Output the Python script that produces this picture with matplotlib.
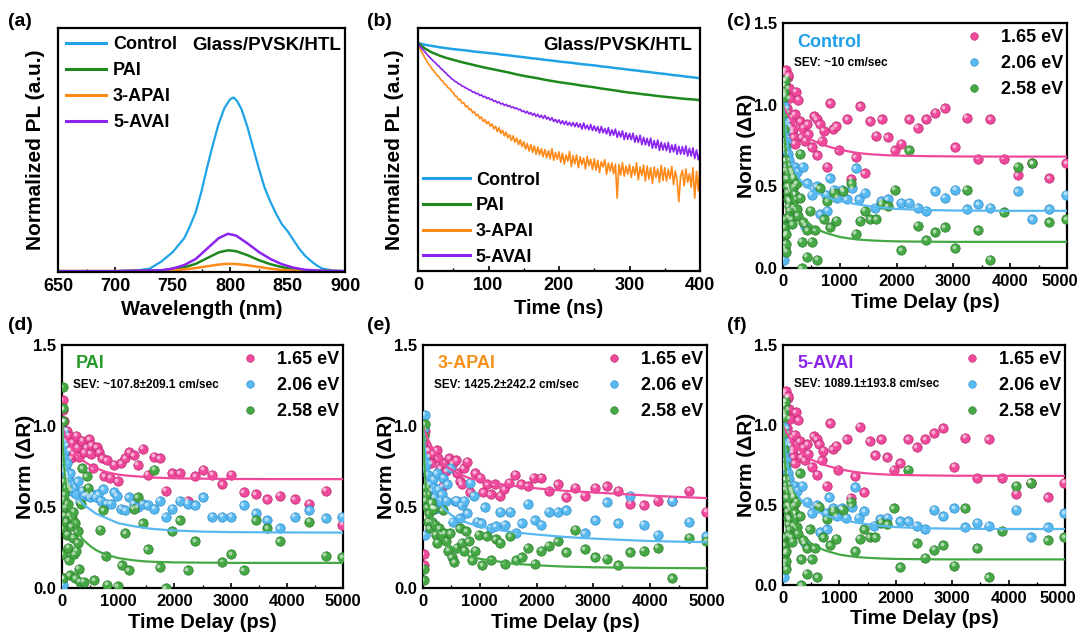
import numpy as np
import matplotlib
matplotlib.use("Agg")
import matplotlib.pyplot as plt
from matplotlib.lines import Line2D
from matplotlib import transforms
from matplotlib.ticker import MultipleLocator

plt.rcParams['font.family'] = ['Liberation Sans', 'DejaVu Sans']
plt.rcParams['font.weight'] = 'bold'
plt.rcParams['axes.labelweight'] = 'bold'

# ---------------- (a) steady-state PL ----------------
PL_WL_CONTROL = [650, 700, 720, 730, 740, 750, 760, 765, 770, 775, 780, 785, 790, 795, 800, 803, 806,
                 810, 815, 820, 825, 830, 835, 840, 845, 850, 855, 860, 865, 870, 875, 880, 890, 900]
PL_CONTROL = [0.0, 0.0, 0.005, 0.015, 0.055, 0.11, 0.19, 0.26, 0.34, 0.46, 0.60, 0.73, 0.85, 0.94, 0.99, 1.0,
              0.98, 0.93, 0.83, 0.71, 0.59, 0.48, 0.40, 0.33, 0.27, 0.23, 0.18, 0.13, 0.09, 0.06, 0.035,
              0.015, 0.003, 0.0]
PL_WL_SMALL = [650, 700, 740, 750, 760, 770, 780, 790, 798, 805, 815, 825, 835, 845, 855, 865, 880, 900]
PL_5AVAI = [0.0, 0.0, 0.005, 0.015, 0.035, 0.07, 0.13, 0.19, 0.215, 0.205, 0.16, 0.11, 0.07, 0.04, 0.02,
            0.008, 0.002, 0.0]
PL_PAI = [0.0, 0.0, 0.004, 0.01, 0.022, 0.042, 0.075, 0.108, 0.12, 0.115, 0.092, 0.063, 0.04, 0.023, 0.012,
          0.005, 0.002, 0.0]
PL_3APAI = [0.0, 0.0, 0.002, 0.004, 0.01, 0.018, 0.028, 0.038, 0.042, 0.041, 0.034, 0.024, 0.014, 0.007,
            0.003, 0.001, 0.0, 0.0]

# ---------------- (b) TRPL ----------------
TR_T10 = list(range(0, 401, 10))
TR_CONTROL = [0.938, 0.931, 0.926, 0.921, 0.917, 0.913, 0.910, 0.907, 0.903, 0.900, 0.897,
              0.894, 0.890, 0.887, 0.883, 0.880, 0.876, 0.873, 0.869, 0.866, 0.862,
              0.859, 0.856, 0.852, 0.849, 0.846, 0.842, 0.839, 0.835, 0.832, 0.828,
              0.825, 0.821, 0.818, 0.814, 0.811, 0.807, 0.804, 0.800, 0.797, 0.793]
TR_PAI = [0.938, 0.915, 0.899, 0.887, 0.877, 0.869, 0.861, 0.854, 0.847, 0.840, 0.834,
          0.828, 0.822, 0.816, 0.809, 0.803, 0.798, 0.793, 0.787, 0.782, 0.777,
          0.773, 0.769, 0.764, 0.760, 0.756, 0.751, 0.747, 0.743, 0.738, 0.734,
          0.731, 0.727, 0.724, 0.720, 0.717, 0.714, 0.711, 0.708, 0.706, 0.703]
TR_T25 = [i * 2.5 for i in range(161)]
TR_3APAI = [0.938, 0.919, 0.902, 0.890, 0.875, 0.865, 0.851, 0.843, 0.831, 0.823,
            0.814, 0.803, 0.799, 0.786, 0.782, 0.769, 0.766, 0.754, 0.751, 0.740,
            0.735, 0.720, 0.719, 0.704, 0.707, 0.690, 0.693, 0.676, 0.680, 0.664,
            0.667, 0.651, 0.656, 0.639, 0.644, 0.627, 0.634, 0.615, 0.623, 0.606,
            0.615, 0.596, 0.605, 0.585, 0.596, 0.574, 0.590, 0.566, 0.579, 0.556,
            0.571, 0.548, 0.561, 0.537, 0.556, 0.530, 0.547, 0.520, 0.540, 0.512,
            0.532, 0.502, 0.525, 0.494, 0.520, 0.488, 0.515, 0.480, 0.510, 0.478,
            0.503, 0.470, 0.500, 0.466, 0.495, 0.462, 0.504, 0.455, 0.488, 0.460,
            0.490, 0.447, 0.485, 0.440, 0.478, 0.452, 0.492, 0.430, 0.475, 0.441,
            0.478, 0.425, 0.470, 0.438, 0.465, 0.420, 0.472, 0.433, 0.460, 0.418,
            0.462, 0.415, 0.455, 0.405, 0.450, 0.428, 0.458, 0.398, 0.445, 0.410,
            0.445, 0.400, 0.440, 0.300, 0.438, 0.395, 0.446, 0.390, 0.432, 0.398,
            0.438, 0.385, 0.430, 0.395, 0.445, 0.375, 0.428, 0.392, 0.436, 0.370,
            0.432, 0.378, 0.425, 0.360, 0.428, 0.385, 0.420, 0.365, 0.435, 0.372,
            0.425, 0.370, 0.418, 0.380, 0.430, 0.355, 0.412, 0.372, 0.285, 0.390,
            0.415, 0.350, 0.420, 0.365, 0.400, 0.345, 0.425, 0.300, 0.410, 0.330,
            0.440]
TR_5AVAI = [0.938, 0.927, 0.917, 0.909, 0.901, 0.892, 0.884, 0.877, 0.869, 0.862,
            0.856, 0.847, 0.842, 0.833, 0.828, 0.819, 0.814, 0.805, 0.800, 0.791,
            0.787, 0.780, 0.777, 0.770, 0.768, 0.761, 0.759, 0.753, 0.751, 0.745,
            0.744, 0.736, 0.737, 0.729, 0.731, 0.722, 0.725, 0.716, 0.719, 0.710,
            0.713, 0.705, 0.707, 0.698, 0.701, 0.692, 0.696, 0.687, 0.690, 0.681,
            0.686, 0.677, 0.681, 0.672, 0.675, 0.668, 0.671, 0.663, 0.666, 0.656,
            0.660, 0.650, 0.657, 0.646, 0.652, 0.641, 0.649, 0.636, 0.645, 0.632,
            0.641, 0.628, 0.640, 0.625, 0.633, 0.620, 0.631, 0.615, 0.624, 0.611,
            0.622, 0.606, 0.618, 0.603, 0.616, 0.600, 0.612, 0.597, 0.611, 0.594,
            0.610, 0.592, 0.606, 0.584, 0.609, 0.585, 0.600, 0.581, 0.603, 0.578,
            0.597, 0.576, 0.594, 0.568, 0.595, 0.569, 0.586, 0.564, 0.590, 0.557,
            0.581, 0.559, 0.584, 0.550, 0.574, 0.551, 0.577, 0.541, 0.569, 0.542,
            0.566, 0.540, 0.567, 0.530, 0.557, 0.529, 0.559, 0.520, 0.550, 0.519,
            0.546, 0.515, 0.547, 0.505, 0.537, 0.506, 0.539, 0.496, 0.530, 0.498,
            0.526, 0.495, 0.529, 0.488, 0.519, 0.490, 0.521, 0.480, 0.513, 0.481,
            0.512, 0.480, 0.515, 0.473, 0.505, 0.473, 0.507, 0.463, 0.498, 0.458,
            0.490]

# ---------------- (c)/(f) Control & 5-AVAI TR ----------------
CTRL_165 = [(20, 1.19), (30, 1.12), (40, 1.15), (48, 1.21), (50, 1.06), (60, 0.88), (70, 0.98), (80, 1.17),
            (90, 1.18), (90, 0.95), (100, 1.10), (110, 0.90), (120, 1.04), (130, 0.87), (150, 0.92),
            (167, 0.83), (170, 0.85), (190, 0.80), (208, 0.94), (208, 0.76), (226, 1.08), (268, 1.03),
            (298, 0.90), (327, 0.80), (357, 0.86), (387, 0.78), (428, 0.88), (446, 0.82), (506, 0.74),
            (547, 0.93), (595, 0.91), (607, 0.69), (643, 0.88), (684, 0.78), (714, 0.84), (774, 0.62),
            (833, 1.01), (880, 0.85), (940, 0.87), (982, 0.72), (1131, 0.91), (1202, 0.545), (1280, 0.68),
            (1357, 0.99), (1440, 0.58), (1535, 0.90), (1636, 0.81), (1737, 0.91), (1845, 0.80),
            (1964, 0.72), (2083, 0.76), (2220, 0.91), (2368, 0.86), (2517, 0.91), (2678, 0.95),
            (2845, 0.98), (3035, 0.74), (3232, 0.92), (3440, 0.67), (3647, 0.91), (3885, 0.67),
            (4135, 0.57), (4390, 0.64), (4690, 0.55), (4982, 0.64)]
CTRL_206 = [(10, 0.99), (15, 0.05), (20, 0.93), (30, 0.88), (30, 0.72), (40, 0.84), (50, 0.78), (60, 0.74),
            (60, 0.62), (80, 0.70), (90, 0.55), (100, 0.66), (120, 0.63), (120, 0.50), (140, 0.60),
            (150, 0.47), (160, 0.58), (180, 0.56), (200, 0.45), (208, 0.62), (250, 0.59), (345, 0.62),
            (387, 0.26), (428, 0.52), (506, 0.45), (595, 0.50), (655, 0.33), (762, 0.45), (774, 0.35),
            (821, 0.55), (893, 0.48), (952, 0.43), (1041, 0.48), (1119, 0.42), (1220, 0.49), (1280, 0.61),
            (1339, 0.42), (1440, 0.46), (1619, 0.37), (1726, 0.41), (1845, 0.42), (2083, 0.40),
            (2220, 0.40), (2368, 0.37), (2517, 0.35), (2678, 0.47), (2845, 0.43), (3035, 0.48),
            (3232, 0.36), (3440, 0.39), (3647, 0.37), (4135, 0.47), (4390, 0.30), (4690, 0.36),
            (4982, 0.45)]
CTRL_258 = [(10, 1.12), (18, 1.08), (20, 1.05), (15, 0.95), (25, 0.85), (30, 1.15), (30, 0.75), (30, 0.12),
            (20, 0.30), (30, 0.25), (40, 0.66), (40, 0.20), (50, 0.60), (50, 0.15), (60, 0.55), (60, 0.66),
            (60, 0.21), (60, 0.10), (70, 0.50), (80, 0.46), (90, 0.42), (90, 0.31), (90, 0.58), (100, 0.38),
            (100, 0.60), (120, 0.41), (120, 0.35), (130, 0.48), (140, 0.30), (150, 0.49), (160, 0.27),
            (180, 0.37), (180, 0.55), (200, 0.50), (208, 0.45), (220, 0.42), (238, 0.52), (240, 0.36),
            (260, 0.32), (298, 0.70), (300, 0.43), (327, 0.16), (327, 0.00), (357, 0.28), (417, 0.07),
            (428, 0.23), (476, 0.35), (506, 0.16), (565, 0.23), (607, 0.05), (643, 0.49), (714, 0.30),
            (774, 0.41), (833, 0.25), (893, 0.46), (940, 0.29), (1060, 0.47), (1202, 0.52), (1280, 0.21),
            (1357, 0.29), (1440, 0.35), (1535, 0.30), (1636, 0.30), (1737, 0.39), (1845, 0.38),
            (1964, 0.48), (2083, 0.11), (2220, 0.72), (2368, 0.26), (2517, 0.17), (2678, 0.22),
            (2845, 0.25), (3035, 0.12), (3232, 0.48), (3440, 0.23), (3647, 0.05), (3885, 0.34),
            (4135, 0.62), (4390, 0.64), (4690, 0.28), (4982, 0.30)]
CTRL_FIT_165 = [(0, 1.0), (25, 0.98), (50, 0.96), (75, 0.945), (100, 0.93), (150, 0.905), (200, 0.88),
                (250, 0.86), (300, 0.84), (350, 0.825), (400, 0.81), (500, 0.785), (600, 0.768),
                (700, 0.755), (850, 0.738), (1000, 0.725), (1150, 0.714), (1300, 0.705), (1450, 0.699),
                (1600, 0.695), (1800, 0.691), (2000, 0.688), (2500, 0.685), (3000, 0.683), (4000, 0.682),
                (5000, 0.682)]
CTRL_FIT_206 = [(0, 1.0), (15, 0.94), (30, 0.88), (45, 0.84), (60, 0.80), (80, 0.76), (100, 0.72),
                (125, 0.68), (150, 0.65), (175, 0.625), (200, 0.60), (250, 0.57), (300, 0.54), (350, 0.52),
                (400, 0.50), (500, 0.48), (600, 0.46), (700, 0.445), (800, 0.43), (900, 0.42), (1000, 0.41),
                (1150, 0.40), (1300, 0.39), (1450, 0.382), (1600, 0.375), (1800, 0.368), (2000, 0.362),
                (2500, 0.355), (3000, 0.352), (4000, 0.35), (5000, 0.35)]
CTRL_FIT_258 = [(0, 1.0), (10, 0.92), (20, 0.85), (35, 0.77), (50, 0.70), (75, 0.62), (100, 0.55),
                (125, 0.50), (150, 0.46), (175, 0.43), (200, 0.40), (250, 0.36), (300, 0.33), (350, 0.31),
                (400, 0.29), (500, 0.26), (600, 0.24), (700, 0.222), (800, 0.21), (900, 0.20), (1000, 0.19),
                (1150, 0.182), (1300, 0.175), (1450, 0.171), (1600, 0.168), (1800, 0.165), (2000, 0.163),
                (2500, 0.161), (3000, 0.16), (5000, 0.16)]

# ---------------- (d) PAI TR ----------------
PAI_165 = [(10, 1.16), (15, 0.06), (18, 1.10), (30, 0.90), (40, 1.03), (50, 0.82), (60, 0.97), (80, 0.91),
           (90, 0.97), (100, 0.88), (120, 0.94), (140, 0.85), (150, 0.85), (160, 0.80), (180, 0.90),
           (210, 0.83), (258, 0.94), (270, 0.87), (300, 0.81), (360, 0.91), (390, 0.84), (437, 0.87),
           (479, 0.92), (510, 0.83), (520, 0.88), (557, 0.74), (617, 0.87), (659, 0.84), (719, 0.80),
           (749, 0.69), (797, 0.79), (856, 0.68), (928, 0.76), (988, 0.66), (1048, 0.77), (1126, 0.80),
           (1198, 0.84), (1276, 0.82), (1348, 0.76), (1438, 0.86), (1528, 0.70), (1636, 0.81),
           (1737, 0.80), (1845, 0.60), (1965, 0.71), (2097, 0.71), (2235, 0.54), (2367, 0.69),
           (2517, 0.73), (2677, 0.70), (2845, 0.64), (3013, 0.70), (3235, 0.59), (3444, 0.58),
           (3654, 0.55), (3875, 0.57), (4139, 0.55), (4401, 0.52), (4689, 0.60), (4988, 0.39)]
PAI_206 = [(10, 0.97), (15, 0.02), (20, 0.89), (30, 0.84), (30, 0.72), (40, 0.80), (50, 0.77), (60, 0.74),
           (70, 0.70), (80, 0.68), (90, 0.77), (90, 0.71), (100, 0.66), (110, 0.68), (120, 0.64),
           (140, 0.62), (150, 0.71), (160, 0.60), (180, 0.64), (222, 0.62), (258, 0.58), (282, 0.66),
           (317, 0.53), (360, 0.60), (400, 0.57), (449, 0.58), (490, 0.56), (539, 0.58), (599, 0.56),
           (640, 0.58), (689, 0.54), (737, 0.61), (797, 0.52), (868, 0.52), (928, 0.59), (976, 0.57),
           (1048, 0.49), (1120, 0.48), (1186, 0.56), (1276, 0.52), (1348, 0.50), (1438, 0.52),
           (1528, 0.51), (1636, 0.49), (1737, 0.54), (1845, 0.44), (1965, 0.49), (2097, 0.54),
           (2235, 0.52), (2367, 0.51), (2517, 0.56), (2677, 0.44), (2845, 0.44), (3013, 0.44),
           (3235, 0.51), (3444, 0.46), (3654, 0.42), (3875, 0.37), (4139, 0.44), (4401, 0.48),
           (4689, 0.43), (4988, 0.44)]
PAI_258 = [(10, 1.24), (15, 1.11), (20, 1.03), (10, 0.37), (15, 0.21), (20, 0.06), (25, 0.66), (30, 0.55),
           (40, 0.58), (50, 0.45), (60, 0.50), (70, 0.62), (75, 0.41), (90, 0.33), (100, 0.52),
           (105, 0.25), (120, 0.17), (130, 0.45), (135, 0.08), (160, 0.38), (180, 0.43), (198, 0.31),
           (200, 0.47), (222, 0.21), (240, 0.06), (240, 0.40), (258, 0.23), (280, 0.28), (282, 0.35),
           (300, 0.12), (317, 0.04), (340, 0.52), (360, 0.74), (389, 0.04), (437, 0.69), (461, 0.62),
           (569, 0.05), (677, 0.36), (737, 0.48), (779, 0.20), (809, 0.02), (988, 0.01), (1060, 0.14),
           (1126, 0.34), (1186, 0.11), (1276, 0.49), (1348, 0.56), (1438, 0.40), (1528, 0.24),
           (1636, 0.73), (1737, 0.13), (1845, 0.0), (1965, 0.35), (2097, 0.42), (2235, 0.11),
           (2367, 0.29), (2845, 0.16), (3013, 0.21), (3235, 0.11), (3444, 0.42), (3654, 0.37),
           (3875, 0.29), (4401, 0.41), (4689, 0.20), (4988, 0.19)]
PAI_FIT_165 = [(0, 1.0), (25, 0.975), (50, 0.95), (75, 0.93), (100, 0.91), (150, 0.88), (200, 0.85),
               (250, 0.83), (300, 0.81), (350, 0.795), (400, 0.78), (500, 0.758), (600, 0.74), (700, 0.727),
               (800, 0.715), (900, 0.707), (1000, 0.70), (1150, 0.694), (1300, 0.69), (1600, 0.682),
               (2000, 0.677), (2500, 0.675), (3000, 0.673), (4000, 0.672), (5000, 0.672)]
PAI_FIT_206 = [(0, 1.0), (15, 0.94), (30, 0.88), (45, 0.84), (60, 0.80), (80, 0.765), (100, 0.73),
               (125, 0.695), (150, 0.66), (175, 0.635), (200, 0.61), (250, 0.575), (300, 0.55), (350, 0.53),
               (400, 0.51), (500, 0.485), (600, 0.46), (700, 0.445), (800, 0.43), (900, 0.415), (1000, 0.40),
               (1150, 0.39), (1300, 0.38), (1450, 0.372), (1600, 0.365), (1800, 0.36), (2000, 0.355),
               (2500, 0.348), (3000, 0.345), (4000, 0.343), (5000, 0.342)]
PAI_FIT_258 = [(0, 1.0), (10, 0.92), (20, 0.85), (35, 0.77), (50, 0.70), (75, 0.62), (100, 0.56),
               (125, 0.51), (150, 0.47), (175, 0.44), (200, 0.41), (250, 0.37), (300, 0.34), (350, 0.31),
               (400, 0.29), (500, 0.26), (600, 0.235), (700, 0.218), (800, 0.205), (900, 0.195), (1000, 0.185),
               (1150, 0.177), (1300, 0.17), (1450, 0.165), (1600, 0.162), (1800, 0.16), (2000, 0.158),
               (3000, 0.155), (5000, 0.155)]

# ---------------- (e) 3-APAI TR ----------------
APAI_165 = [(10, 0.21), (15, 0.14), (10, 0.95), (20, 0.91), (30, 0.86), (40, 0.97), (60, 0.85), (89, 0.85),
            (110, 0.81), (149, 0.77), (190, 0.83), (238, 0.85), (268, 0.80), (298, 0.74), (345, 0.63),
            (370, 0.77), (405, 0.72), (464, 0.80), (524, 0.77), (583, 0.79), (607, 0.71), (655, 0.66),
            (684, 0.64), (714, 0.74), (774, 0.78), (833, 0.59), (922, 0.71), (1012, 0.68), (1059, 0.59),
            (1131, 0.64), (1190, 0.58), (1262, 0.64), (1357, 0.57), (1428, 0.61), (1517, 0.65),
            (1619, 0.70), (1726, 0.64), (1845, 0.63), (1952, 0.68), (2083, 0.68), (2214, 0.60),
            (2368, 0.64), (2517, 0.56), (2678, 0.62), (2845, 0.57), (3035, 0.62), (3232, 0.63),
            (3440, 0.60), (3647, 0.52), (3885, 0.51), (4135, 0.54), (4390, 0.54), (4690, 0.60),
            (4982, 0.47)]
APAI_206 = [(30, 1.07), (10, 0.99), (30, 0.33), (20, 0.80), (40, 0.74), (60, 0.77), (70, 0.62), (89, 0.70),
            (100, 0.58), (119, 0.64), (130, 0.52), (149, 0.60), (160, 0.50), (178, 0.67), (190, 0.62),
            (208, 0.56), (220, 0.49), (238, 0.71), (268, 0.61), (298, 0.54), (327, 0.58), (357, 0.68),
            (405, 0.54), (430, 0.64), (476, 0.74), (524, 0.41), (565, 0.54), (607, 0.54), (643, 0.43),
            (684, 0.51), (726, 0.54), (774, 0.46), (833, 0.65), (893, 0.57), (952, 0.41), (1024, 0.40),
            (1083, 0.50), (1190, 0.37), (1280, 0.38), (1357, 0.47), (1440, 0.39), (1535, 0.47),
            (1636, 0.34), (1737, 0.40), (1845, 0.52), (1964, 0.42), (2083, 0.39), (2214, 0.47),
            (2368, 0.47), (2517, 0.48), (2845, 0.34), (3035, 0.42), (3232, 0.53), (3440, 0.40),
            (3647, 0.57), (3885, 0.39), (4135, 0.33), (4390, 0.54), (4690, 0.41), (4982, 0.32)]
APAI_258 = [(30, 1.01), (15, 0.94), (10, 0.05), (15, 0.12), (30, 0.62), (48, 0.54), (60, 0.58), (77, 0.50),
            (89, 0.41), (107, 0.46), (119, 0.37), (149, 0.53), (167, 0.41), (178, 0.49), (208, 0.39),
            (226, 0.33), (250, 0.28), (286, 0.37), (310, 0.33), (345, 0.48), (369, 0.34), (405, 0.29),
            (446, 0.23), (476, 0.34), (506, 0.19), (547, 0.16), (595, 0.25), (643, 0.37), (684, 0.28),
            (726, 0.23), (762, 0.35), (803, 0.29), (863, 0.17), (922, 0.23), (982, 0.33), (1041, 0.14),
            (1119, 0.32), (1202, 0.17), (1280, 0.30), (1357, 0.28), (1440, 0.15), (1535, 0.32),
            (1636, 0.17), (1737, 0.19), (1845, 0.25), (1964, 0.15), (2083, 0.23), (2214, 0.26),
            (2368, 0.29), (2517, 0.22), (2678, 0.36), (2845, 0.24), (3035, 0.19), (3232, 0.18),
            (3440, 0.14), (3647, 0.22), (3885, 0.23), (4135, 0.25), (4390, 0.06), (4690, 0.31),
            (4982, 0.29)]
APAI_FIT_165 = [(0, 1.0), (25, 0.975), (50, 0.95), (75, 0.93), (100, 0.91), (150, 0.875), (200, 0.84),
                (250, 0.815), (300, 0.79), (350, 0.77), (400, 0.755), (500, 0.73), (600, 0.71), (700, 0.695),
                (800, 0.68), (900, 0.672), (1000, 0.665), (1150, 0.655), (1300, 0.645), (1450, 0.637),
                (1600, 0.63), (1800, 0.622), (2000, 0.615), (2500, 0.60), (3000, 0.59), (3500, 0.58),
                (4000, 0.57), (4500, 0.562), (5000, 0.555)]
APAI_FIT_206 = [(0, 1.0), (15, 0.94), (30, 0.88), (45, 0.83), (60, 0.79), (80, 0.75), (100, 0.71),
                (125, 0.67), (150, 0.64), (175, 0.61), (200, 0.59), (250, 0.55), (300, 0.52), (350, 0.50),
                (400, 0.48), (500, 0.45), (600, 0.43), (700, 0.413), (800, 0.40), (900, 0.39), (1000, 0.38),
                (1150, 0.37), (1300, 0.36), (1450, 0.352), (1600, 0.345), (1800, 0.337), (2000, 0.33),
                (2500, 0.315), (3000, 0.305), (3500, 0.297), (4000, 0.29), (4500, 0.286), (5000, 0.283)]
APAI_FIT_258 = [(0, 1.0), (10, 0.89), (20, 0.80), (35, 0.70), (50, 0.62), (75, 0.55), (100, 0.50),
                (125, 0.46), (150, 0.43), (175, 0.40), (200, 0.38), (250, 0.345), (300, 0.32), (350, 0.30),
                (400, 0.28), (500, 0.253), (600, 0.23), (700, 0.213), (800, 0.20), (900, 0.19), (1000, 0.18),
                (1150, 0.172), (1300, 0.165), (1450, 0.157), (1600, 0.15), (1800, 0.145), (2000, 0.14),
                (2500, 0.132), (3000, 0.128), (4000, 0.124), (5000, 0.122)]

SAMPLES = ['Control', 'PAI', '3-APAI', '5-AVAI']
ENERGIES = ['1.65 eV', '2.06 eV', '2.58 eV']
SEV_TEXT = ['SEV: ~10 cm/sec', 'SEV: ~107.8\u00b1209.1 cm/sec', 'SEV: 1425.2\u00b1242.2 cm/sec',
            'SEV: 1089.1\u00b1193.8 cm/sec']

# ---------------- styling ----------------
C_BLUE, C_GREEN, C_ORANGE, C_PURPLE = '#1FA2E6', '#1E871E', '#FF8A1A', '#8A24EE'
S_PINK, S_BLUE, S_GREEN = '#F0489A', '#58B8F0', '#45A845'
EDGE = {S_PINK: '#B82A70', S_BLUE: '#2F8CC8', S_GREEN: '#2A7A2A'}

W, H = 1082, 635
fig = plt.figure(figsize=(W / 100, H / 100), dpi=100)


def px_axes(l, t, r, b):
    return fig.add_axes([l / W, 1 - b / H, (r - l) / W, (b - t) / H])


def style(ax, labelsize=12):
    for s in ax.spines.values():
        s.set_linewidth(1.6)
    ax.tick_params(direction='in', length=3.5, width=1.2, labelsize=labelsize, pad=4)
    ax.tick_params(which='minor', direction='in', length=2, width=1.0)
    for lbl in ax.get_xticklabels() + ax.get_yticklabels():
        lbl.set_fontweight('bold')


def balls(ax, pts, color):
    arr = np.array(pts, dtype=float)
    ax.scatter(arr[:, 0], arr[:, 1], s=46, c=color, edgecolors=EDGE[color], linewidths=0.5,
               zorder=3, clip_on=True)
    tr = transforms.offset_copy(ax.transData, fig=fig, x=-1.0, y=1.0, units='points')
    ax.scatter(arr[:, 0], arr[:, 1], s=8, c='white', alpha=0.55, linewidths=0, zorder=3.1,
               transform=tr, clip_on=True)


def fitline(ax, pts, color):
    arr = np.array(pts, dtype=float)
    ax.plot(arr[:, 0], arr[:, 1], color=color, lw=1.6, zorder=4)


# ---------------- (a) ----------------
ax = px_axes(58, 28, 345, 272)
ax.plot(PL_WL_CONTROL, PL_CONTROL, color=C_BLUE, lw=1.6, label=SAMPLES[0])
ax.plot(PL_WL_SMALL, PL_PAI, color=C_GREEN, lw=1.8, label=SAMPLES[1])
ax.plot(PL_WL_SMALL, PL_3APAI, color=C_ORANGE, lw=1.8, label=SAMPLES[2])
ax.plot(PL_WL_SMALL, PL_5AVAI, color=C_PURPLE, lw=1.8, label=SAMPLES[3])
ax.set_xlim(650, 900)
ax.set_ylim(-0.005, 1.4)
ax.set_xticks([650, 700, 750, 800, 850, 900])
ax.xaxis.set_minor_locator(MultipleLocator(25))
ax.set_yticks([])
style(ax, 13)
ax.set_xlabel('Wavelength (nm)', fontsize=14.5)
ax.set_ylabel('Normalized PL (a.u.)', fontsize=15)
ax.xaxis.set_label_coords(0.5, -0.155)
ax.xaxis.label.set_va('center')
ax.yaxis.set_label_coords(-0.08, 0.5)
ax.yaxis.label.set_va('center')
leg = ax.legend(loc='upper left', bbox_to_anchor=(0.0, 1.0), frameon=False, fontsize=13,
                handlelength=2.2, handletextpad=0.4, labelspacing=0.5, borderaxespad=0.2,
                borderpad=0.25)
for h in leg.get_lines():
    h.set_linewidth(2.2)
ax.text(0.985, 0.93, 'Glass/PVSK/HTL', transform=ax.transAxes, ha='right', va='center',
        fontsize=13.5, fontweight='bold')

# ---------------- (b) ----------------
ax = px_axes(418, 28, 700, 271)
ax.plot(TR_T10, TR_CONTROL, color=C_BLUE, lw=1.8, label=SAMPLES[0])
ax.plot(TR_T10, TR_PAI, color=C_GREEN, lw=1.8, label=SAMPLES[1])
ax.plot(TR_T25, TR_3APAI, color=C_ORANGE, lw=1.2, label=SAMPLES[2])
ax.plot(TR_T25, TR_5AVAI, color=C_PURPLE, lw=1.2, label=SAMPLES[3])
ax.set_xlim(0, 400)
ax.set_ylim(0, 1)
ax.set_xticks([0, 100, 200, 300, 400])
ax.xaxis.set_minor_locator(MultipleLocator(50))
ax.set_yticks([])
style(ax, 13)
ax.set_xlabel('Time (ns)', fontsize=14.5)
ax.set_ylabel('Normalized PL (a.u.)', fontsize=15)
ax.xaxis.set_label_coords(0.5, -0.155)
ax.xaxis.label.set_va('center')
ax.yaxis.set_label_coords(-0.082, 0.5)
ax.yaxis.label.set_va('center')
leg = ax.legend(loc='lower left', bbox_to_anchor=(0.0, 0.0), frameon=False, fontsize=13,
                handlelength=2.6, handletextpad=0.3, labelspacing=0.48, borderaxespad=0.1,
                borderpad=0.2)
for h in leg.get_lines():
    h.set_linewidth(2.2)
ax.text(0.972, 0.93, 'Glass/PVSK/HTL', transform=ax.transAxes, ha='right', va='center',
        fontsize=13.5, fontweight='bold')

# ---------------- (c)-(f) ----------------
panels = [
    ((783, 23, 1067, 268), CTRL_165, CTRL_206, CTRL_258, CTRL_FIT_165, CTRL_FIT_206, CTRL_FIT_258,
     SAMPLES[0], '#1E9FEA', SEV_TEXT[0], True),
    ((62, 345, 343, 588), PAI_165, PAI_206, PAI_258, PAI_FIT_165, PAI_FIT_206, PAI_FIT_258,
     SAMPLES[1], '#2A9A2A', SEV_TEXT[1], False),
    ((423, 345, 707, 588), APAI_165, APAI_206, APAI_258, APAI_FIT_165, APAI_FIT_206, APAI_FIT_258,
     SAMPLES[2], '#F7921E', SEV_TEXT[2], False),
    ((783, 345, 1065, 585), CTRL_165, CTRL_206, CTRL_258, CTRL_FIT_165, CTRL_FIT_206, CTRL_FIT_258,
     SAMPLES[3], '#8A24E6', SEV_TEXT[3], True),
]
for (box, p1, p2, p3, f1, f2, f3, name, ncol, sev, edge_col) in panels:
    ax = px_axes(*box)
    balls(ax, p1, S_PINK)
    balls(ax, p2, S_BLUE)
    balls(ax, p3, S_GREEN)
    fitline(ax, f1, S_PINK)
    fitline(ax, f2, S_BLUE)
    fitline(ax, f3, S_GREEN)
    ax.set_xlim(0, 5000)
    ax.set_ylim(0, 1.5)
    ax.set_xticks([0, 1000, 2000, 3000, 4000, 5000])
    ax.xaxis.set_minor_locator(MultipleLocator(500))
    ax.set_yticks([0.0, 0.5, 1.0, 1.5])
    ax.set_yticklabels(['0.0', '0.5', '1.0', '1.5'])
    style(ax, 12)
    if edge_col:
        shift = transforms.ScaledTranslation(-7 / 100, 0, fig.dpi_scale_trans)
        last = ax.get_xticklabels()[-1]
        last.set_transform(last.get_transform() + shift)
    ax.set_xlabel('Time Delay (ps)', fontsize=14.5)
    ax.set_ylabel('Norm (\u0394R)', fontsize=15)
    ax.xaxis.set_label_coords(0.5, -0.14)
    ax.xaxis.label.set_va('center')
    ax.yaxis.set_label_coords(-0.13, 0.5)
    ax.yaxis.label.set_va('center')
    ax.text(0.05, 0.922, name, transform=ax.transAxes, ha='left', va='center', fontsize=13,
            fontweight='bold', color=ncol)
    ax.text(0.04, 0.837, sev, transform=ax.transAxes, ha='left', va='center', fontsize=8.5,
            fontweight='bold')
    handles = [Line2D([], [], ls='', marker='o', markersize=5.5, color=c, markeredgecolor=EDGE[c],
                      markeredgewidth=0.4) for c in (S_PINK, S_BLUE, S_GREEN)]
    ax.legend(handles, ENERGIES, loc='upper right', bbox_to_anchor=(1.01, 1.0), frameon=False,
              fontsize=13, handlelength=1.0, handletextpad=1.0, labelspacing=0.5,
              borderaxespad=0.15, borderpad=0.2)

# panel letters
for lab, x, y in [('(a)', 8, 22), ('(b)', 367, 22), ('(c)', 727, 22),
                  ('(d)', 8, 325), ('(e)', 367, 325), ('(f)', 727, 325)]:
    fig.text(x / W, 1 - y / H, lab, fontsize=14, fontweight='bold', ha='left', va='center')

fig.savefig('out.png', dpi=100)
